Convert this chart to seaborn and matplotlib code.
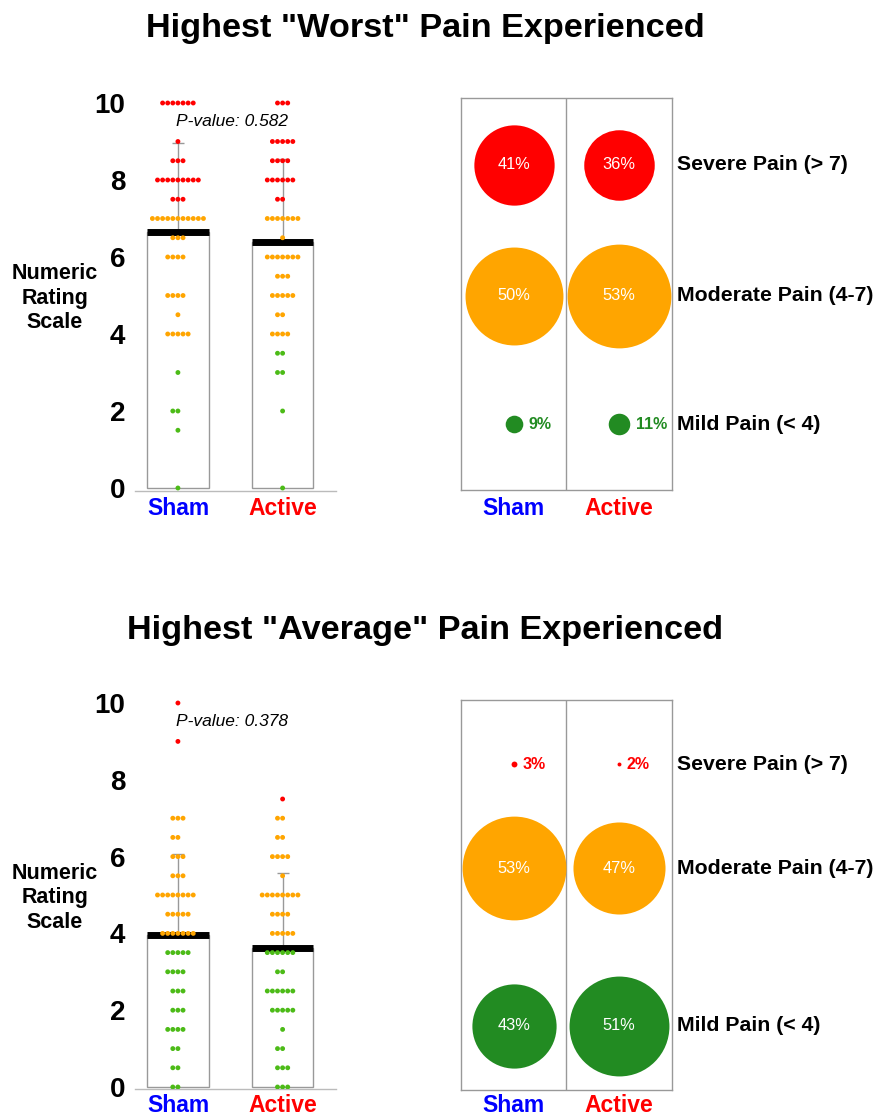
import numpy as np
import pandas as pd
import matplotlib
matplotlib.use("Agg")
import matplotlib.pyplot as plt
import matplotlib.transforms as mtransforms
import seaborn as sns

# ---------------------------------------------------------------- data
groups = ["Sham", "Active"]
group_colors = ["#0000FF", "#FF0000"]

worst_levels = [10, 9, 8.5, 8, 7.5, 7, 6.5, 6, 5.5, 5, 4.5, 4, 3.5, 3, 2, 1.5, 0]
worst_sham_counts = [7, 1, 3, 9, 3, 11, 3, 4, 0, 4, 1, 5, 0, 1, 2, 1, 1]
worst_active_counts = [3, 5, 4, 6, 2, 7, 1, 7, 3, 5, 2, 4, 2, 2, 1, 0, 1]

avg_levels = [10, 9, 7.5, 7, 6.5, 6, 5.5, 5, 4.5, 4, 3.5, 3, 2.5, 2, 1.5, 1, 0.5, 0]
avg_sham_counts = [1, 1, 0, 3, 2, 3, 3, 8, 5, 7, 5, 4, 3, 3, 4, 2, 2, 2]
avg_active_counts = [0, 0, 1, 2, 2, 4, 1, 8, 4, 5, 6, 2, 6, 5, 1, 2, 3, 3]

titles = ['Highest "Worst" Pain Experienced', 'Highest "Average" Pain Experienced']
p_values = ["0.582", "0.378"]

severity_keys = ["Severe", "Moderate", "Mild"]
severity_labels = ["Severe Pain (> 7)", "Moderate Pain (4-7)", "Mild Pain (< 4)"]
dot_colors = {"Severe": "#FF0000", "Moderate": "#FFA500", "Mild": "#4CBB17"}
bubble_colors = {"Severe": "#FF0000", "Moderate": "#FFA500", "Mild": "#228B22"}


def severity(v):
    if v > 7:
        return "Severe"
    if v < 4:
        return "Mild"
    return "Moderate"


def build_frame(levels, sham_counts, active_counts):
    rows = []
    for g, counts in zip(groups, [sham_counts, active_counts]):
        for lv, c in zip(levels, counts):
            rows += [(g, lv, severity(lv))] * c
    return pd.DataFrame(rows, columns=["group", "score", "severity"])


frames = [
    build_frame(worst_levels, worst_sham_counts, worst_active_counts),
    build_frame(avg_levels, avg_sham_counts, avg_active_counts),
]

# ---------------------------------------------------------------- style
sns.set_style("white")
plt.rcParams["font.family"] = ["Liberation Sans", "DejaVu Sans"]
plt.rcParams["text.color"] = "black"
plt.rcParams["xtick.color"] = "black"
plt.rcParams["ytick.color"] = "black"

W, H = 875, 1117
fig = plt.figure(figsize=(W / 100, H / 100), dpi=100)


def px_axes(l, t, r, b):
    return fig.add_axes([l / W, 1 - b / H, (r - l) / W, (b - t) / H])


# layout of each panel (pixel geometry)
panels = [
    dict(y0=488, ppu=38.5, left=(135, 91.5, 336, 490.5), right=(461, 98, 672, 490),
         title_y=28, ylabel_y=298, rows=[8.4, 5.0, 1.65], pad=(2, 5)),
    dict(y0=1087, ppu=38.4, left=(135, 691.5, 336, 1088.5), right=(461, 700, 672, 1090),
         title_y=630, ylabel_y=898, rows=[8.4, 5.7, 1.6], pad=(1, 3)),
]

axis_gray = "#BBBBBB"
box_gray = "#999999"
xs = np.arange(len(groups))
bar_w = 0.59

for panel, df, title, pval in zip(panels, frames, titles, p_values):
    y0, ppu = panel["y0"], panel["ppu"]

    # ---------------- dot + bar panel
    l, t, r, b = panel["left"]
    ax = px_axes(l, t, r, b)
    stats = df.groupby("group")["score"].agg(["mean", "std"]).reindex(groups)
    means = stats["mean"].to_numpy()
    sds = stats["std"].to_numpy()

    ax.errorbar(xs, means, yerr=sds, fmt="none", ecolor=box_gray,
                elinewidth=1.0, capsize=4, zorder=1)
    sns.barplot(data=df, x="group", y="score", order=groups, errorbar=None,
                color="white", edgecolor=box_gray, linewidth=1.0, width=bar_w,
                saturation=1, ax=ax, zorder=2)
    ax.hlines(means, xs - bar_w / 2, xs + bar_w / 2, colors="black",
              linewidth=5, zorder=3)
    sns.swarmplot(data=df, x="group", y="score", hue="severity", order=groups,
                  hue_order=severity_keys, palette=dot_colors, size=3.5,
                  legend=False, ax=ax, zorder=4)

    ax.set_xlim(-0.41, 1.51)
    ax.set_ylim((y0 - b) / ppu, (y0 - t) / ppu)
    ax.set_yticks(range(0, 11, 2))
    ax.set_xticks(xs)
    ax.set_xticklabels(groups)
    ax.set_xlabel("")
    ax.set_ylabel("")
    for lab, c in zip(ax.get_xticklabels(), group_colors):
        lab.set_color(c)
        lab.set_fontweight("bold")
        lab.set_fontsize(16.5)
    for lab in ax.get_yticklabels():
        lab.set_fontweight("bold")
        lab.set_fontsize(20)
    ax.tick_params(axis="y", length=0, pad=7)
    ax.tick_params(axis="x", length=3, color=axis_gray, pad=panel["pad"][0])
    for s in ["left", "top", "right"]:
        ax.spines[s].set_visible(False)
    ax.spines["bottom"].set_color(axis_gray)
    ax.spines["bottom"].set_linewidth(1.0)

    ax.text(-0.02, 9.53, f"P-value: {pval}", style="italic", fontsize=12.5,
            ha="left", va="center", zorder=5)

    # ---------------- bubble panel
    l, t, r, b = panel["right"]
    ax2 = px_axes(l, t, r, b)
    ax2.set_xlim(0, 2)
    ax2.set_ylim((y0 - b) / ppu, (y0 - t) / ppu)
    ax2.axvline(1, color=box_gray, linewidth=1.0)
    for s in ax2.spines.values():
        s.set_color(box_gray)
        s.set_linewidth(1.0)

    for i, g in enumerate(groups):
        sub = df[df["group"] == g]
        n = len(sub)
        for key, row_y in zip(severity_keys, panel["rows"]):
            pct = int(round(100 * (sub["severity"] == key).sum() / n))
            diam_pt = 1.41 * pct
            ax2.scatter(i + 0.5, row_y, s=diam_pt ** 2, color=bubble_colors[key],
                        linewidths=0, zorder=3)
            if pct >= 20:
                ax2.text(i + 0.5, row_y, f"{pct}%", color="white", fontsize=11.8,
                         ha="center", va="center", zorder=4)
            else:
                ax2.annotate(f"{pct}%", (i + 0.5, row_y),
                             xytext=(diam_pt / 2 + 4, 0), textcoords="offset points",
                             color=bubble_colors[key], fontsize=11.5, fontweight="bold",
                             ha="left", va="center", zorder=4)

    trans = mtransforms.blended_transform_factory(ax2.transAxes, ax2.transData)
    for lab, row_y in zip(severity_labels, panel["rows"]):
        ax2.text(1 + 5 / (r - l), row_y, lab, transform=trans, fontsize=15.3,
                 fontweight="bold", ha="left", va="center", clip_on=False)

    ax2.set_yticks([])
    ax2.set_xticks([0.5, 1.5])
    ax2.set_xticklabels(groups)
    for lab, c in zip(ax2.get_xticklabels(), group_colors):
        lab.set_color(c)
        lab.set_fontweight("bold")
        lab.set_fontsize(16.5)
    ax2.tick_params(axis="x", length=0, pad=panel["pad"][1])

    # ---------------- panel title and y label
    fig.text(425 / W, 1 - panel["title_y"] / H, title, ha="center", va="center",
             fontsize=24.7, fontweight="bold")
    fig.text(55 / W, 1 - panel["ylabel_y"] / H, "Numeric\nRating\nScale",
             ha="center", va="center", fontsize=15.5, fontweight="bold",
             multialignment="center", linespacing=1.2)

fig.savefig("out.png", dpi=100, facecolor="white")
